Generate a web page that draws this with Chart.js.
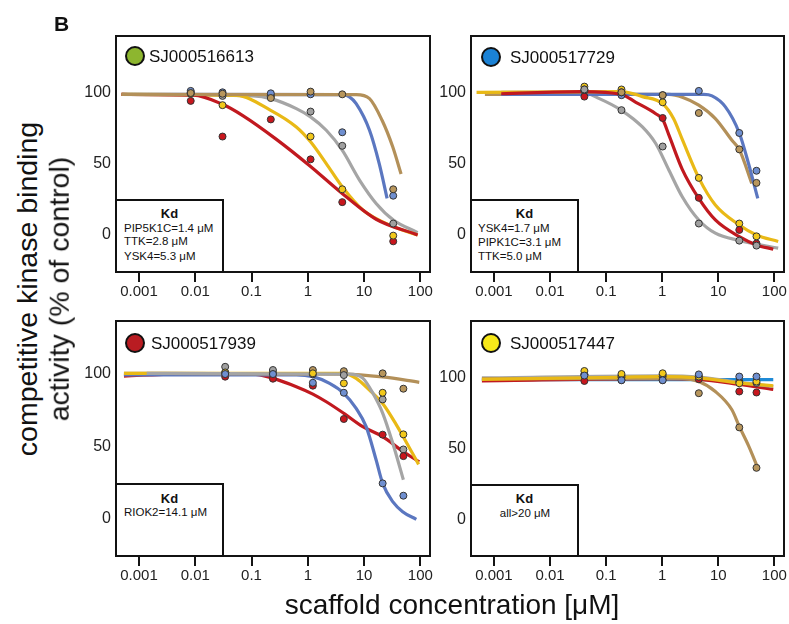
<!DOCTYPE html>
<html><head><meta charset="utf-8">
<script src="https://cdn.jsdelivr.net/npm/chart.js@4"></script>
<style>
body{margin:0;width:789px;height:624px;background:#fff;position:relative;overflow:hidden;font-family:"Liberation Sans",Arial,sans-serif;color:#111;}
canvas{position:absolute;}
.t{position:absolute;white-space:nowrap;line-height:1;transform:translateY(-50%);}
.tc{position:absolute;white-space:nowrap;line-height:1;transform:translate(-50%,-50%);}
.rot{position:absolute;white-space:nowrap;line-height:1;transform:translate(-50%,-50%) rotate(-90deg);font-size:28.5px;}
.dot{position:absolute;width:16px;height:16px;border:2px solid #111;border-radius:50%;}
.kd{position:absolute;background:#fff;border:2px solid #111;box-sizing:border-box;}
</style></head><body>
<canvas id="c1" width="369" height="276" style="left:66px;top:30px"></canvas>
<canvas id="c2" width="368" height="276" style="left:421px;top:30px"></canvas>
<canvas id="c3" width="369" height="275" style="left:66px;top:315px"></canvas>
<canvas id="c4" width="368" height="275" style="left:421px;top:315px"></canvas>

<div class="t" style="left:54px;top:23px;font-size:21px;font-weight:bold;">B</div>

<div class="dot" style="left:125px;top:46px;background:#8db62f"></div>
<div class="t" style="left:149px;top:56px;font-size:17px;">SJ000516613</div>
<div class="dot" style="left:481px;top:47px;background:#1b82d5"></div>
<div class="t" style="left:510px;top:57px;font-size:17px;">SJ000517729</div>
<div class="dot" style="left:125px;top:333px;background:#b91c22"></div>
<div class="t" style="left:151px;top:343px;font-size:17px;">SJ000517939</div>
<div class="dot" style="left:481px;top:333px;background:#f7e81a"></div>
<div class="t" style="left:510px;top:343px;font-size:17px;">SJ000517447</div>

<div class="kd" style="left:115px;top:199px;width:109px;height:74px"></div>
<div class="tc" style="left:169.5px;top:213px;font-size:13px;font-weight:bold;">Kd</div>
<div class="t" style="left:124px;top:229px;font-size:11.5px;">PIP5K1C=1.4 μM</div>
<div class="t" style="left:124px;top:242px;font-size:11.5px;">TTK=2.8 μM</div>
<div class="t" style="left:124px;top:256.5px;font-size:11.5px;">YSK4=5.3 μM</div>

<div class="kd" style="left:470px;top:199px;width:109px;height:74px"></div>
<div class="tc" style="left:524.5px;top:213px;font-size:13px;font-weight:bold;">Kd</div>
<div class="t" style="left:478px;top:228.5px;font-size:11.5px;">YSK4=1.7 μM</div>
<div class="t" style="left:478px;top:242.5px;font-size:11.5px;">PIPK1C=3.1 μM</div>
<div class="t" style="left:478px;top:256.5px;font-size:11.5px;">TTK=5.0 μM</div>

<div class="kd" style="left:115px;top:483px;width:109px;height:74px"></div>
<div class="tc" style="left:169.5px;top:498px;font-size:13px;font-weight:bold;">Kd</div>
<div class="t" style="left:124px;top:513px;font-size:11.5px;">RIOK2=14.1 μM</div>

<div class="kd" style="left:470px;top:484px;width:109px;height:73px"></div>
<div class="tc" style="left:524.5px;top:498px;font-size:13px;font-weight:bold;">Kd</div>
<div class="tc" style="left:525px;top:513.5px;font-size:11.5px;">all&gt;20 μM</div>

<div class="rot" style="left:27px;top:289px;">competitive kinase binding</div>
<div class="rot" style="left:59px;top:289px;">activity (% of control)</div>
<div class="tc" style="left:452px;top:605px;font-size:28px;">scaffold concentration [μM]</div>

<script>
// ---- axis ticks ----
const tickVals = [0.001, 0.01, 0.1, 1, 10, 100];
const tickLabels = ['0.001', '0.01', '0.1', '1', '10', '100'];
const yTickVals = [0, 50, 100];

// ---- panel 1: SJ000516613 ----
const p1Doses = [0.0083, 0.0305, 0.22, 1.12, 4.1, 33];
const p1RedPts = [94, 69, 81, 53, 23, -4.5];
const p1YellowPts = [99, 91, 97, 69, 32, -0.5];
const p1GrayPts = [100, 97.5, 98, 86.5, 62.5, 8];
const p1BluePts = [101, 100, 99.3, 98.6, 72, 27.5];
const p1TanPts = [99.5, 99, 96, 100.5, 98.6, 32];
const p1RedCurve = [[0.00049,98.5],[0.0092,98],[0.0305,91.6],[0.071,83.5],[0.277,67],[1.08,48.5],[4.19,28.7],[16.4,11],[89.6,0]];
const p1YellowCurve = [[0.00049,98.5],[0.054,97.8],[0.219,87.4],[0.625,75.7],[1.12,65.3],[2.13,50],[4.09,33.8],[9.5,17.5],[33.2,5.8],[89.6,0]];
const p1GrayCurve = [[0.00049,98.5],[0.106,97.5],[0.219,95.6],[0.625,88.6],[1.12,82.8],[2.13,73.4],[4.09,59.4],[8.3,38.5],[16.4,22.1],[33.2,10.5],[89.6,1.6]];
const p1BlueCurve = [[0.00049,98.6],[4.19,98.4],[5.5,96.8],[7.24,92],[12.5,73.4],[18.6,50],[25.7,25.6]];
const p1TanCurve = [[0.00049,98.6],[7.24,98.4],[12.5,95.6],[20.9,80.4],[32.3,61.8],[45.5,42.7]];

// ---- panel 2: SJ000517729 ----
const p2Doses = [0.041, 0.188, 1.02, 4.5, 23.7, 48];
const p2RedPts = [97, 100, 82, 26, 3.5, -6];
const p2YellowPts = [104, 102, 93, 40, 8, -1];
const p2GrayPts = [102, 87.5, 62, 8, -4, -7.5];
const p2BluePts = [101, 98, 98, 101, 71.5, 45];
const p2TanPts = [102, 100, 98, 85.5, 60, 36.5];
const p2RedCurve = [[0.00135,99],[0.0383,100.5],[0.188,98.5],[0.339,93],[0.767,85],[1.02,81],[1.32,70],[2.28,46],[4.49,25.6],[8.87,10.5],[23.7,-1.2],[47.9,-7],[95.6,-10]];
const p2YellowCurve = [[0.00049,100],[0.188,100.5],[0.444,97],[1.02,92],[1.6,81.5],[2.28,67],[4.49,40],[8.87,21],[23.7,7],[47.9,0],[117,-4.6]];
const p2GrayCurve = [[0.00135,100],[0.0383,100],[0.0759,95.6],[0.188,87.4],[0.444,75.7],[0.767,64.1],[1.32,45.4],[2.28,26.8],[4.49,10.5],[8.87,1.2],[23.7,-3.9],[117,-9.3]];
const p2BlueCurve = [[0.00135,98.5],[5.5,98.5],[7.74,97.5],[13.4,89.8],[23.7,71.5],[34.6,50.1],[50.6,25.6]];
const p2TanCurve = [[0.00069,98.5],[1.32,98.5],[2.28,96.6],[4.49,91],[8.87,81.6],[17.5,66.4],[23.7,59.9],[39.6,36.1]];

// ---- panel 3: SJ000517939 ----
const p3Doses = [0.034, 0.24, 1.23, 4.37, 21.4, 50];
const p3RedPts = [98.2, 96.8, 92, 69, 58.2, 43.4];
const p3YellowPts = [101.1, 99.8, 100.5, 93.6, 87.1, 58.4];
const p3GrayPts = [105, 102.8, 99.8, 99.3, 82.5, 48];
const p3BluePts = [100, 100, 94, 87.1, 24.6, 16.1];
const p3TanPts = [101, 101, 102.8, 102, 100.5, 89.9];
const p3RedCurve = [[0.00054,98.6],[0.005,100],[0.106,100],[0.24,97],[0.625,91.3],[1.23,86.2],[2.13,80.9],[4.37,72.9],[9.49,63.7],[21.4,56.8],[50,46.4],[95.7,39.5]];
const p3YellowCurve = [[0.00054,100.5],[4.37,100.5],[7.24,97],[12.5,88.9],[21.4,79.7],[37.1,65.3],[63.8,49.2],[93.3,37.7]];
const p3GrayCurve = [[0.00137,100.5],[5.5,100],[9.49,97.2],[14.3,86.9],[21.4,73.1],[32.3,52.4],[50,27.1]];
const p3BlueCurve = [[0.00054,99.5],[0.625,99.5],[1.23,98.2],[2.44,93.6],[4.37,86.7],[7.24,76.3],[10.9,63.7],[16.4,40.7],[21.4,24.6],[32.3,12],[48.5,5.1],[84.9,-0.2]];
const p3TanCurve = [[0.00054,100.5],[4.37,100],[21.4,98],[95.7,94.3]];

// ---- panel 4: SJ000517447 ----
const p4Doses = [0.041, 0.188, 1.02, 4.5, 23.7, 48];
const p4RedPts = [97.4, 98, 98, 98.6, 90, 89.3];
const p4YellowPts = [104.4, 102.3, 102.8, 100.5, 95.8, 97];
const p4GrayPts = [102, 100, 100.5, 100.5, 97, 96];
const p4BluePts = [101.2, 97.9, 97.9, 102, 100.5, 100.5];
const p4TanPts = [102, 101.2, 102, 88.8, 64.8, 36.4];
const p4RedCurve = [[0.00061,97.5],[1.02,99],[4.49,98.5],[23.7,95],[95.6,91.5]];
const p4GrayCurve = [[0.00061,99.5],[1.02,101],[4.49,100.2],[23.7,96.5],[95.6,93.5]];
const p4YellowCurve = [[0.00061,98.5],[0.188,100],[1.02,100.5],[4.49,99.5],[23.7,96],[95.6,94]];
const p4BrightBlueCurve = [[0.00061,98.3],[95.6,98.3]];
const p4TanCurve = [[0.00061,99],[2.28,99],[4.49,97],[8.87,90],[17.5,77.2],[23.7,65.5],[34.6,52],[50.6,36.4]];

// ---- styles ----
const lineCol = {red:'#c1191f', yellow:'#e9b916', gray:'#a5a5a5', blue:'#5b77c0', tan:'#b39059', bright:'#1f8ad6'};
const ptCol = {red:'#c8161d', yellow:'#f2c81a', gray:'#a0a0a0', blue:'#6f8fd0', tan:'#b8965c'};

function curveDs(curve, col){
  return {data: curve.map(p => ({x:p[0], y:p[1]})), borderColor: col, borderWidth: 3.2,
    pointRadius: 0, cubicInterpolationMode: 'monotone', fill: false, order: 2};
}
function ptDs(doses, vals, col){
  return {data: doses.map((d,i) => ({x:d, y:vals[i]})), showLine: false, pointRadius: 3.5,
    pointBackgroundColor: col, pointBorderColor: '#333', pointBorderWidth: 1, order: 1};
}

const boxPlugin = {
  id: 'box',
  afterDatasetsDraw(chart){
    const a = chart.chartArea, ctx = chart.ctx;
    ctx.save(); ctx.strokeStyle = '#141414'; ctx.lineWidth = 2;
    ctx.strokeRect(a.left, a.top, a.right - a.left, a.bottom - a.top);
    ctx.restore();
  }
};

function makePanel(id, datasets, yMin, yMax, padRight){
  new Chart(document.getElementById(id), {
    type: 'line',
    data: {datasets},
    options: {
      responsive: false, animation: false,
      layout: {padding: {top: 6, right: padRight, left: 0, bottom: 0}},
      plugins: {legend: {display: false}, tooltip: {enabled: false}},
      scales: {
        x: {type: 'logarithmic', min: 0.00039, max: 148.6,
          afterBuildTicks: s => { s.ticks = tickVals.map(v => ({value: v})); },
          afterFit: s => { s.height = 34; s.paddingLeft = 0; s.paddingRight = 0; },
          ticks: {autoSkip: false, maxRotation: 0, padding: 1, color: '#222',
            font: {family: '"Liberation Sans", Arial, sans-serif', size: 15},
            callback: v => tickLabels[tickVals.indexOf(v)]},
          grid: {drawOnChartArea: false, drawTicks: true, tickLength: 10, color: '#141414', lineWidth: 2},
          border: {display: false}},
        y: {type: 'linear', min: yMin, max: yMax,
          afterBuildTicks: s => { s.ticks = yTickVals.map(v => ({value: v})); },
          afterFit: s => { s.width = 50; s.paddingTop = 0; s.paddingBottom = 0; },
          ticks: {padding: 5, color: '#222', font: {family: '"Liberation Sans", Arial, sans-serif', size: 16}},
          grid: {display: false, drawTicks: false},
          border: {display: false}}
      }
    },
    plugins: [boxPlugin]
  });
}

makePanel('c1', [
  ptDs(p1Doses, p1TanPts, ptCol.tan), ptDs(p1Doses, p1BluePts, ptCol.blue), ptDs(p1Doses, p1GrayPts, ptCol.gray),
  ptDs(p1Doses, p1YellowPts, ptCol.yellow), ptDs(p1Doses, p1RedPts, ptCol.red),
  curveDs(p1TanCurve, lineCol.tan), curveDs(p1RedCurve, lineCol.red), curveDs(p1YellowCurve, lineCol.yellow),
  curveDs(p1GrayCurve, lineCol.gray), curveDs(p1BlueCurve, lineCol.blue)
], -26, 139.5, 4);

makePanel('c2', [
  ptDs(p2Doses, p2GrayPts, ptCol.gray), ptDs(p2Doses, p2TanPts, ptCol.tan), ptDs(p2Doses, p2RedPts, ptCol.red),
  ptDs(p2Doses, p2BluePts, ptCol.blue), ptDs(p2Doses, p2YellowPts, ptCol.yellow),
  curveDs(p2RedCurve, lineCol.red), curveDs(p2YellowCurve, lineCol.yellow), curveDs(p2BlueCurve, lineCol.blue),
  curveDs(p2TanCurve, lineCol.tan), curveDs(p2GrayCurve, lineCol.gray)
], -26, 139.5, 3);

makePanel('c3', [
  ptDs(p3Doses, p3BluePts, ptCol.blue), ptDs(p3Doses, p3RedPts, ptCol.red), ptDs(p3Doses, p3YellowPts, ptCol.yellow),
  ptDs(p3Doses, p3GrayPts, ptCol.gray), ptDs(p3Doses, p3TanPts, ptCol.tan),
  curveDs(p3GrayCurve, lineCol.gray), curveDs(p3YellowCurve, lineCol.yellow), curveDs(p3TanCurve, lineCol.tan),
  curveDs(p3BlueCurve, lineCol.blue), curveDs(p3RedCurve, lineCol.red)
], -25.5, 136.6, 4);

makePanel('c4', [
  ptDs(p4Doses, p4BluePts, ptCol.blue), ptDs(p4Doses, p4YellowPts, ptCol.yellow), ptDs(p4Doses, p4TanPts, ptCol.tan),
  ptDs(p4Doses, p4GrayPts, ptCol.gray), ptDs(p4Doses, p4RedPts, ptCol.red),
  curveDs(p4YellowCurve, lineCol.yellow), curveDs(p4TanCurve, lineCol.tan), curveDs(p4GrayCurve, lineCol.gray),
  curveDs(p4RedCurve, lineCol.red), curveDs(p4BrightBlueCurve, lineCol.bright)
], -25.5, 139.5, 3);
</script>
</body></html>
